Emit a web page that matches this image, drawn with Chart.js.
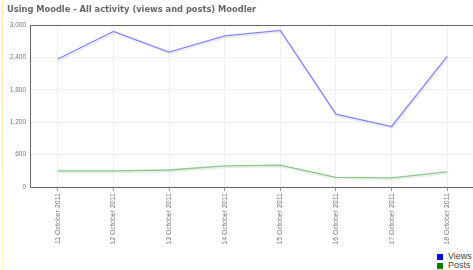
<!DOCTYPE html>
<html>
<head>
<meta charset="utf-8">
<script src="https://cdn.jsdelivr.net/npm/chart.js@4/dist/chart.umd.min.js"></script>
<style>
  html, body { margin: 0; padding: 0; background: #fff; }
  #wrap { position: relative; width: 473px; height: 270px; overflow: hidden; background: #fff; }
  #edge { position: absolute; left: 2px; top: 0; width: 1px; height: 270px;
          background: linear-gradient(#fde7a0, #fdf0c8); }
  #title { position: absolute; left: 7px; top: 4px; font: bold 8.3px "DejaVu Sans", sans-serif;
           color: #666; white-space: nowrap; }
  #c { position: absolute; left: 0; top: 0; }
  #legend { position: absolute; left: 437px; top: 252px; font: 9px "Liberation Sans", Arial, sans-serif; color: #444; }
  #legend div { height: 9px; line-height: 9px; white-space: nowrap; position: relative; }
  #legend span.sw { position: absolute; left: 0; top: 2px; width: 6px; height: 6px; }
  #legend span.tx { position: absolute; left: 11px; top: 0; }
</style>
</head>
<body>
<div id="wrap">
  <div id="edge"></div>
  <canvas id="c" width="475" height="250" style="width:475px;height:250px"></canvas>
  <div id="title">Using Moodle - All activity (views and posts) Moodler</div>
  <div id="legend"></div>
</div>
<script>
const categories = ["11 October 2011", "12 October 2011", "13 October 2011", "14 October 2011",
                    "15 October 2011", "16 October 2011", "17 October 2011", "18 October 2011"];
const views = [2370, 2880, 2500, 2800, 2900, 1350, 1120, 2420];
const posts = [300, 300, 315, 390, 405, 180, 170, 280];
const seriesNames = ["Views", "Posts"];
const legendColors = ["#0000ff", "#008000"];
const yTicks = [0, 600, 1200, 1800, 2400, 3000];

const shadowPlugin = {
  id: 'shadow',
  beforeDatasetDraw(chart) {
    const ctx = chart.ctx;
    ctx.save();
    ctx.shadowColor = 'rgba(0,0,0,0.13)';
    ctx.shadowOffsetX = 1;
    ctx.shadowOffsetY = 1.5;
    ctx.shadowBlur = 1.5;
  },
  afterDatasetDraw(chart) { chart.ctx.restore(); }
};
const topBorder = {
  id: 'topBorder',
  afterDraw(chart) {
    const a = chart.chartArea, ctx = chart.ctx;
    ctx.save();
    ctx.strokeStyle = '#666';
    ctx.lineWidth = 1;
    ctx.beginPath();
    ctx.moveTo(a.left, a.top + 0.5);
    ctx.lineTo(a.right, a.top + 0.5);
    ctx.stroke();
    ctx.restore();
  }
};

new Chart(document.getElementById('c'), {
  type: 'line',
  data: {
    labels: categories,
    datasets: [
      { label: seriesNames[0], data: views, borderColor: '#8585ff', borderWidth: 1.3,
        pointRadius: 0, tension: 0, fill: false },
      { label: seriesNames[1], data: posts, borderColor: '#88c988', borderWidth: 1.3,
        pointRadius: 0, tension: 0, fill: false }
    ]
  },
  options: {
    responsive: false,
    animation: false,
    layout: { padding: { top: 25, left: 0, right: 0, bottom: 0 } },
    plugins: { legend: { display: false }, title: { display: false }, tooltip: { enabled: false } },
    scales: {
      x: {
        type: 'category',
        offset: true,
        grid: { offset: false, color: '#efefef', drawTicks: true, tickLength: 4, tickColor: '#999' },
        border: { display: true, color: '#666', width: 1 },
        ticks: { minRotation: 90, maxRotation: 90, autoSkip: false, padding: 2,
                 color: '#777', font: { family: 'Liberation Sans', size: 7 } },
        afterFit(s) { s.height = 63; }
      },
      y: {
        min: 0, max: 3000,
        afterBuildTicks(s) { s.ticks = yTicks.map(v => ({ value: v })); },
        grid: { color: '#efefef', drawTicks: false },
        border: { display: true, color: '#666', width: 1 },
        ticks: { padding: 4, color: '#777', font: { family: 'Liberation Sans', size: 6.5 } },
        afterFit(s) { s.width = 30; }
      }
    }
  },
  plugins: [shadowPlugin, topBorder]
});

const lg = document.getElementById('legend');
seriesNames.forEach((n, i) => {
  const d = document.createElement('div');
  const sw = document.createElement('span'); sw.className = 'sw'; sw.style.background = legendColors[i];
  const tx = document.createElement('span'); tx.className = 'tx'; tx.textContent = n;
  d.appendChild(sw); d.appendChild(tx); lg.appendChild(d);
});
</script>
</body>
</html>
